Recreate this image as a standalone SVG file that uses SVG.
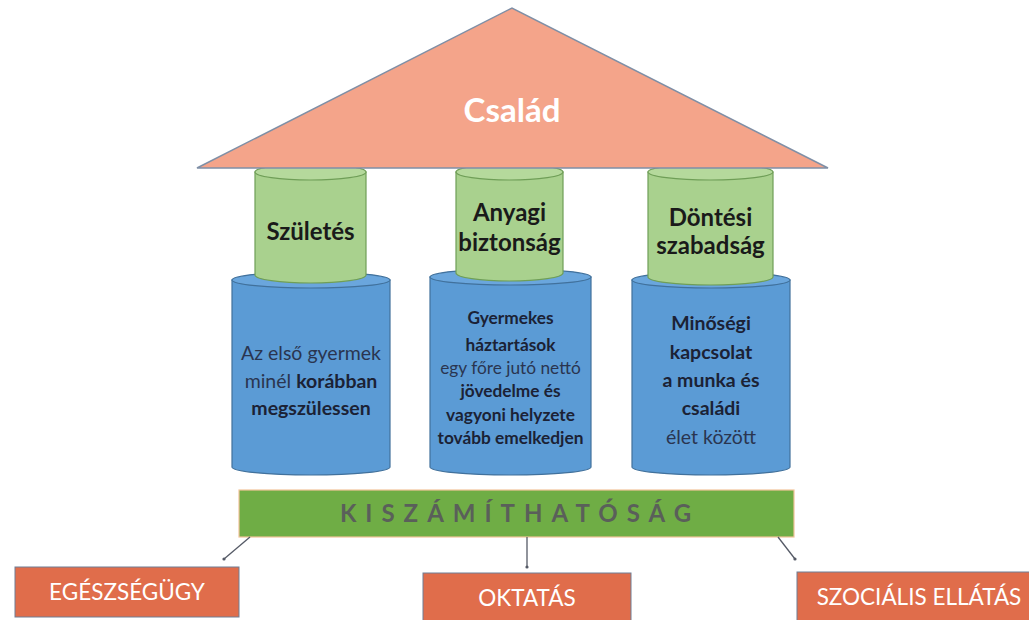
<svg xmlns="http://www.w3.org/2000/svg" width="1029" height="620" viewBox="0 0 1029 620">
<defs>
<style>
.blue{fill:#5B9BD5;stroke:#41719C;stroke-width:1.2}
.bluetop{fill:#6AA6DD;stroke:#41719C;stroke-width:1.2}
.green{fill:#A9D18E;stroke:#6F9E57;stroke-width:1.2}
.greentop{fill:#B5D99C;stroke:#6F9E57;stroke-width:1.2}
.box{fill:#E06D4B;stroke:#6F7E95;stroke-width:1}
.t{font-family:Lato,"Open Sans","Liberation Sans",sans-serif;text-anchor:middle}
.gt{font-size:24px;font-weight:bold;fill:#1a1a1a}
.bt{font-size:19.5px;fill:#2a3550}
.bt2{font-size:17.3px;fill:#2a3550}
.b{font-weight:bold;fill:#1b2235}
.bx{font-size:22.5px;fill:#ffffff}
.conn{stroke:#555a66;stroke-width:1.3;fill:none;marker-end:url(#dot)}
</style>
<marker id="dot" markerWidth="4" markerHeight="4" refX="2" refY="2" markerUnits="userSpaceOnUse"><circle cx="2" cy="2" r="1.6" fill="#555a66"/></marker>
</defs>
<rect width="1029" height="620" fill="#ffffff"/>

<g id="pillar1-base">
<path class="blue" d="M232 280 L232 467 A79 8 0 0 0 390 467 L390 280 Z"/>
<ellipse class="bluetop" cx="311" cy="280" rx="79" ry="8"/>
<text class="t bt" x="311" y="360">Az első gyermek</text>
<text class="t bt" x="311" y="388">minél <tspan class="b">korábban</tspan></text>
<text class="t bt b" x="311" y="415">megszülessen</text>
</g>
<g id="pillar2-base">
<path class="blue" d="M430 277 L430 467 A80.5 8 0 0 0 591 467 L591 277 Z"/>
<ellipse class="bluetop" cx="510.5" cy="277" rx="80.5" ry="8"/>
<text class="t bt2 b" x="510.5" y="324">Gyermekes</text>
<text class="t bt2 b" x="510.5" y="351">háztartások</text>
<text class="t bt2" x="510.5" y="374">egy főre jutó nettó</text>
<text class="t bt2 b" x="510.5" y="397">jövedelme és</text>
<text class="t bt2 b" x="510.5" y="421">vagyoni helyzete</text>
<text class="t bt2 b" x="510.5" y="444">tovább emelkedjen</text>
</g>
<g id="pillar3-base">
<path class="blue" d="M632 280 L632 467 A79 8 0 0 0 790 467 L790 280 Z"/>
<ellipse class="bluetop" cx="711" cy="280" rx="79" ry="8"/>
<text class="t bt b" x="711" y="330">Minőségi</text>
<text class="t bt b" x="711" y="359">kapcsolat</text>
<text class="t bt b" x="711" y="387">a munka és</text>
<text class="t bt" x="711" y="415"><tspan class="b">családi</tspan></text>
<text class="t bt" x="711" y="444">élet között</text>
</g>

<g id="pillar1-top">
<path class="green" d="M255 172 L255 275 A55.5 8 0 0 0 366 275 L366 172 Z"/>
<ellipse class="greentop" cx="310.5" cy="172" rx="55.5" ry="8"/>
<text class="t gt" x="310.5" y="240">Születés</text>
</g>
<g id="pillar2-top">
<path class="green" d="M456 172 L456 273 A53.5 8 0 0 0 563 273 L563 172 Z"/>
<ellipse class="greentop" cx="509.5" cy="172" rx="53.5" ry="8"/>
<text class="t gt" x="509.5" y="221">Anyagi</text>
<text class="t gt" x="509.5" y="251">biztonság</text>
</g>
<g id="pillar3-top">
<path class="green" d="M648 172 L648 277 A62.5 8 0 0 0 773 277 L773 172 Z"/>
<ellipse class="greentop" cx="710.5" cy="172" rx="62.5" ry="8"/>
<text class="t gt" x="710.5" y="226">Döntési</text>
<text class="t gt" x="710.5" y="254">szabadság</text>
</g>

<g id="roof">
<polygon points="197,168 512,8 828,168" fill="#F4A48A" stroke="#7F8FA6" stroke-width="1.5" stroke-linejoin="miter"/>
<text class="t" x="512" y="122" font-size="33" font-weight="bold" fill="#ffffff">Család</text>
</g>

<g id="kiszamithatosag">
<rect x="239" y="490" width="555" height="47" fill="#6FAD45" stroke="#F2C49A" stroke-width="1.2"/>
<text class="t" x="520" y="522" font-size="24" font-weight="bold" fill="#5a5f5a" letter-spacing="9">KISZÁMÍTHATÓSÁG</text>
</g>

<g id="connectors">
<line class="conn" x1="250" y1="537" x2="224" y2="559"/>
<line class="conn" x1="527" y1="537" x2="527" y2="567"/>
<line class="conn" x1="778" y1="537" x2="795" y2="559"/>
</g>

<g id="egeszsegugy">
<rect class="box" x="15" y="567" width="224" height="50"/>
<text class="t bx" x="127" y="600">EGÉSZSÉGÜGY</text>
</g>
<g id="oktatas">
<rect class="box" x="423" y="573" width="208" height="50"/>
<text class="t bx" x="527" y="606">OKTATÁS</text>
</g>
<g id="szocialis">
<rect class="box" x="797" y="572" width="240" height="50"/>
<text class="t bx" x="919" y="605">SZOCIÁLIS ELLÁTÁS</text>
</g>
</svg>
